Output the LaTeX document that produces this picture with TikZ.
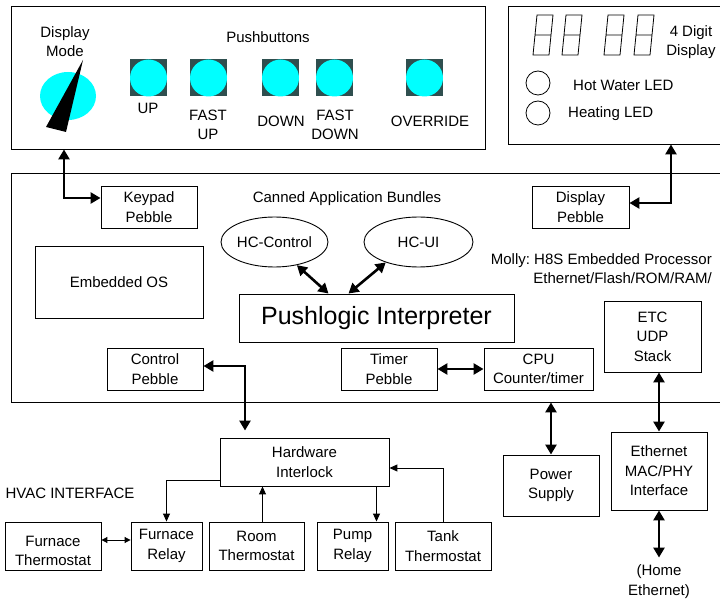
\documentclass[tikz,border=0pt]{standalone}
\usepackage{fontspec}
\setmainfont{Liberation Sans}
\usepackage{tikz}
\usetikzlibrary{arrows.meta,shapes.geometric}
\definecolor{btnframe}{HTML}{2F4F4F}
\definecolor{btncyan}{RGB}{0,255,255}

\begin{document}
\begin{tikzpicture}[x=1pt, y=-1pt,
	every node/.style={font=\fontsize{15}{19.5}\selectfont\frenchspacing, align=center, inner sep=0pt},
	box/.style={draw, line width=0.9pt},
	bundle/.style={draw, ellipse, line width=0.9pt},
	link/.style={line width=2.6pt, {Triangle[length=10pt,width=11pt]}-{Triangle[length=10pt,width=11pt]}},
	wire/.style={line width=1pt, -{Triangle[length=8pt,width=7pt]}},
	wires/.style={line width=1pt, {Triangle[length=6pt,width=6pt]}-{Triangle[length=6pt,width=6pt]}}]
	\useasboundingbox (0,0) rectangle (720,601);
	\clip (0,0) rectangle (720,601);
	% front panel
	\node[box, minimum width=474, minimum height=143] (panel) at (248,77.5) {};
	\fill[btncyan] (68,96) ellipse [x radius=28, y radius=24];
	\fill[black] (83,60) -- (46,127) -- (66,132) -- cycle;
	\node (mode) at (65,41.5) {Display\\Mode};
	\node (pbtitle) at (268,37) {Pushbuttons};
	\foreach \bx in {148.5,208.5,280.5,334.5,424.5} {
		\fill[btnframe] (\bx-18.5,59.5) rectangle (\bx+18.5,96.5);
		\fill[btncyan] (\bx,78) circle (18.5);
	}
	\node (lup) at (148,108) {UP};
	\node (lfup) at (208,125) {FAST\\UP};
	\node (ldown) at (281,121) {DOWN};
	\node (lfdown) at (335,125) {FAST\\DOWN};
	\node (lover) at (430,121) {OVERRIDE};
	% display panel
	\node[box, minimum width=217, minimum height=138] (dpanel) at (616.5,75) {};
	\foreach \dx in {533,562,604,634} {
		\draw[line width=0.8pt] (\dx,55) -- (\dx+16,55) -- (\dx+20,15) -- (\dx+4,15) -- cycle
			(\dx+2,35) -- (\dx+18,35);
	}
	\node (digits) at (691,42) {4 Digit\\Display};
	\draw[line width=0.8pt] (538,83) circle (12) (538,113) circle (12);
	\node[anchor=west] (hotled) at (573,85) {Hot Water LED};
	\node[anchor=west] (heatled) at (568,114) {Heating LED};
	% Molly board
	\node[box, minimum width=714, minimum height=229] (core) at (368,287.5) {};
	\node[box, minimum width=96, minimum height=42] (keypad) at (149,207) {Keypad\\Pebble};
	\node[box, minimum width=97, minimum height=42] (dpebble) at (580.5,207) {Display\\Pebble};
	\node (canned) at (347,199) {Canned Application Bundles};
	\node[bundle, minimum width=107, minimum height=50] (hcc) at (274.5,242) {HC-Control};
	\node[bundle, minimum width=109, minimum height=50] (hcu) at (418.5,242) {HC-UI};
	\node[anchor=east, align=right] (molly) at (712,268.5) {Molly: H8S Embedded Processor\\Ethernet/Flash/ROM/RAM/};
	\node[box, minimum width=168, minimum height=72] (eos) at (119,282) {Embedded OS};
	\node[box, minimum width=275, minimum height=48, font=\fontsize{25}{30}\selectfont] (pl) at (376.5,318) {Pushlogic Interpreter};
	\node[box, minimum width=96, minimum height=42] (ctrl) at (155,369) {Control\\Pebble};
	\node[box, minimum width=96, minimum height=42] (timer) at (389,369) {Timer\\Pebble};
	\node[box, minimum width=109, minimum height=42] (cpu) at (538.5,369) {CPU\\Counter/timer};
	\node[box, minimum width=97, minimum height=71] (etc) at (652.5,336.5) {ETC\\UDP\\Stack};
	% outside the board
	\node[box, minimum width=96, minimum height=61] (psu) at (551,485.5) {Power\\Supply};
	\node[box, minimum width=96, minimum height=78] (eth) at (659,471) {Ethernet\\MAC/PHY\\Interface};
	\node (home) at (659,581.5) {(Home\\Ethernet)};
	\node[box, minimum width=169, minimum height=48] (hw) at (304.5,462) {Hardware\\Interlock};
	\node (hvac) at (70,493) {HVAC INTERFACE};
	\node[box, minimum width=96, minimum height=48] (ft) at (53,546) {};
	\node (ftlbl) at (53,551) {Furnace\\Thermostat};
	\node[box, minimum width=71, minimum height=48] (fr) at (166.5,546) {Furnace\\Relay};
	\node[box, minimum width=95, minimum height=48] (rt) at (256.5,546) {Room\\Thermostat};
	\node[box, minimum width=71, minimum height=48] (pr) at (352.5,546) {Pump\\Relay};
	\node[box, minimum width=96, minimum height=48] (tt) at (443,546) {Tank\\Thermostat};
	\coordinate (kpbend) at (64,198);
	\coordinate (dpbend) at (671,203);
	\coordinate (ctrlbend) at (245,366);
	% connectors
	\draw[link] (kpbend |- panel.south) -- (kpbend) -- (kpbend -| keypad.west);
	\draw[link] (dpbend |- dpanel.south) -- (dpbend) -- (dpbend -| dpebble.east);
	\draw[link] (hcc.-46) -- ([xshift=-48pt]pl.north);
	\draw[link] (hcu.-148) -- ([xshift=-28pt]pl.north);
	\draw[link] (timer.east) -- (cpu.west);
	\draw[link, shorten >=7pt] (ctrlbend -| ctrl.east) -- (ctrlbend) -- (ctrlbend |- hw.north);
	\draw[link] (psu.north |- core.south) -- (psu.north);
	\draw[link] (eth.north |- etc.south) -- (eth.north);
	\draw[link] (eth.south) -- ([yshift=7pt]home.north);
	\draw[wires] ([yshift=6pt]ft.east) -- ([yshift=6pt]fr.west);
	\draw[wire] ([yshift=-18pt]hw.west) -| (fr.north);
	\draw[wire] ([xshift=6pt]rt.north) -- ([xshift=6pt]rt.north |- hw.south);
	\draw[wire] ([xshift=24pt]pr.north |- hw.south) -- ([xshift=24pt]pr.north);
	\draw[wire] (tt.north) |- ([yshift=-6pt]hw.east);
\end{tikzpicture}
\end{document}
